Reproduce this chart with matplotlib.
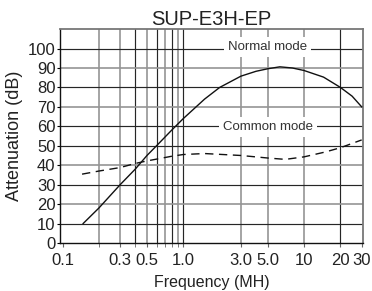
import matplotlib
matplotlib.use("Agg")
import matplotlib.pyplot as plt

plt.rcParams['font.family'] = ['Liberation Sans', 'DejaVu Sans']

# values
normal_f = [0.148, 0.2, 0.3, 0.4, 0.5, 0.6, 0.8, 1.0, 1.5, 2.0, 3.0, 4.0,
            5.0, 6.3, 8.0, 10, 14.5, 20, 25, 30]
normal_db = [10, 18, 30, 38, 45, 50, 58, 64, 74, 80, 85.8, 88.3,
             89.6, 90.6, 90, 88.7, 85.3, 80, 75.5, 70]

common_f = [0.145, 0.2, 0.3, 0.4, 0.5, 0.8, 1.0, 1.5, 3.0, 5.0, 7.0,
            10, 15, 20, 30]
common_db = [35.4, 37, 38.8, 40.9, 42.2, 44.6, 45.5, 46, 45, 43.7, 43,
             44.3, 46.8, 49, 53]

xtick_vals = [0.1, 0.3, 0.5, 1.0, 3.0, 5.0, 10, 20, 30]
xtick_labels = ["0.1", "0.3", "0.5", "1.0", "3.0", "5.0", "10", "20", "30"]
vgrid_dark = [0.4, 0.6, 0.8, 1.0, 20]
vgrid_grey = [0.2, 0.3, 0.5, 0.7, 0.9, 3.0, 5.0, 10]
hgrid_dark = [10, 30, 50, 60, 80, 100]
hgrid_grey = [20, 40, 70, 90]

fig = plt.figure(figsize=(3.72, 2.91), dpi=100)
ax = fig.add_axes([0.162, 0.165, 0.814, 0.735])

for v in vgrid_grey:
    ax.axvline(v, color="#959595", lw=1.2, zorder=1)
for v in vgrid_dark:
    ax.axvline(v, color="#262626", lw=0.85, zorder=1)
for h in hgrid_grey:
    ax.axhline(h, color="#959595", lw=1.2, zorder=1)
for h in hgrid_dark:
    ax.axhline(h, color="#262626", lw=0.85, zorder=1)

ax.plot(normal_f, normal_db, color="#111111", lw=1.0, zorder=3)
ax.plot(common_f, common_db, color="#111111", lw=1.0,
        linestyle=(0, (6, 4)), zorder=3)

ax.text(5.0, 101, "Normal mode", ha="center", va="center", fontsize=9.5,
        color="#333333", zorder=4,
        bbox=dict(boxstyle="square,pad=0.3", fc="white", ec="none"))
ax.text(5.0, 59.5, "Common mode", ha="center", va="center", fontsize=9.5,
        color="#333333", zorder=4,
        bbox=dict(boxstyle="square,pad=0.3", fc="white", ec="none"))

ax.set_xscale("log")
ax.set_xlim(0.0957, 30.8)
ax.set_ylim(0, 110)

ax.set_xticks(xtick_vals)
ax.set_xticklabels(xtick_labels)
ax.set_xticks(vgrid_dark + vgrid_grey, minor=True)
ax.xaxis.set_minor_formatter(matplotlib.ticker.NullFormatter())
ax.set_yticks(range(0, 101, 10))

ax.tick_params(axis="x", which="both", direction="out", length=3,
               color="#666666", labelsize=12, pad=4, labelcolor="#222222")
ax.tick_params(axis="y", direction="out", length=2.5, labelsize=12, pad=1,
               labelcolor="#222222")

for side in ["left", "bottom"]:
    ax.spines[side].set_color("#111111")
    ax.spines[side].set_linewidth(1.0)
for side in ["top", "right"]:
    ax.spines[side].set_color("#777777")
    ax.spines[side].set_linewidth(1.3)

ax.set_xlabel("Frequency (MH)", fontsize=11.5, labelpad=5, color="#222222")
ax.set_ylabel("Attenuation (dB)", fontsize=13, labelpad=3, color="#222222")
ax.set_title("SUP-E3H-EP", fontsize=14.5, pad=3, color="#222222")

fig.savefig("out.png", dpi=100)
